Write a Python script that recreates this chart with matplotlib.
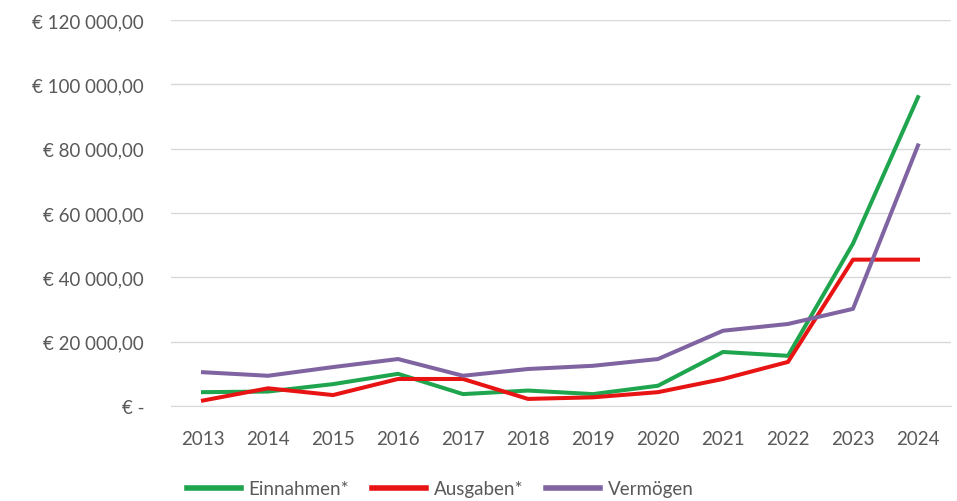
import matplotlib.pyplot as plt
import matplotlib.ticker as mticker
import numpy as np

# values in euros
years = ["2013", "2014", "2015", "2016", "2017", "2018", "2019", "2020", "2021", "2022", "2023", "2024"]
einnahmen = [4300, 4500, 6800, 10000, 3700, 4800, 3700, 6300, 16800, 15600, 50500, 96000]
ausgaben = [1700, 5500, 3400, 8400, 8400, 2200, 2700, 4300, 8400, 13700, 45500, 45500]
vermoegen = [10500, 9400, 12100, 14600, 9400, 11500, 12500, 14600, 23400, 25500, 30200, 81000]
y_ticks = [0, 20000, 40000, 60000, 80000, 100000, 120000]

GREEN = "#1ea54e"
RED = "#e81414"
PURPLE = "#8064a2"
GRID = "#d9d9d9"
TICK_INK = "#595959"

plt.rcParams["font.family"] = ["Lato", "DejaVu Sans"]


def euro(v, _pos):
    if v == 0:
        return "€ -"
    return "€ " + f"{v:,.2f}".replace(",", " ").replace(".", ",")


fig = plt.figure(figsize=(9.57, 5.02), dpi=100)
ax = fig.add_axes([170.5 / 957, 1 - 407 / 502, 780 / 957, 386 / 502])

x = np.arange(len(years))
ax.plot(x, einnahmen, color=GREEN, linewidth=2.9, label="Einnahmen*")
ax.plot(x, ausgaben, color=RED, linewidth=2.9, label="Ausgaben*")
ax.plot(x, vermoegen, color=PURPLE, linewidth=2.9, label="Vermögen")

ax.set_xlim(-0.5, len(years) - 0.5)
ax.set_ylim(0, 120000)
ax.set_xticks(x)
ax.set_xticklabels(years)
ax.set_yticks(y_ticks)
ax.yaxis.set_major_formatter(mticker.FuncFormatter(euro))
ax.grid(axis="y", color=GRID, linewidth=1.0)
ax.set_axisbelow(True)
for spine in ("top", "right", "left"):
    ax.spines[spine].set_visible(False)
ax.spines["bottom"].set_color(GRID)
ax.tick_params(length=0, colors=TICK_INK, labelsize=13.5)
ax.tick_params(axis="y", pad=19)
ax.tick_params(axis="x", pad=17)

leg = fig.legend(
    loc="center", bbox_to_anchor=(440 / 957, 1 - 490 / 502), ncol=3, frameon=False,
    fontsize=13.5, labelcolor=TICK_INK, handlelength=2.9, columnspacing=1.2, handletextpad=0.4,
)
for line in leg.get_lines():
    line.set_linewidth(4)

fig.savefig("out.png", dpi=100, facecolor="white")
